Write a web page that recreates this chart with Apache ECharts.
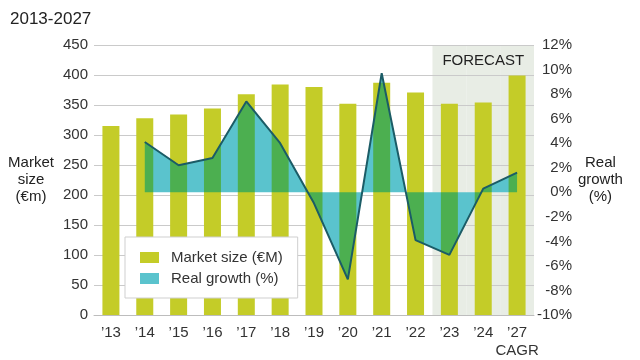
<!DOCTYPE html>
<html>
<head>
<meta charset="utf-8">
<script src="https://cdn.jsdelivr.net/npm/echarts@6/dist/echarts.min.js"></script>
<style>
html,body{margin:0;padding:0;background:#fff;}
#c{width:640px;height:360px;}
</style>
</head>
<body>
<div id="c"></div>
<script>
const categories = ['\u201913','\u201914','\u201915','\u201916','\u201917','\u201918','\u201919','\u201920','\u201921','\u201922','\u201923','\u201924','\u201927'];
const marketSize = [315, 328, 334, 344, 368, 384, 380, 352, 387, 371, 352, 354, 399];
const realGrowth = [null, 4.1, 2.2, 2.8, 7.4, 4.0, -0.9, -7.1, 9.7, -3.9, -5.1, 0.3, 1.6];
const forecast = [null, null, null, null, null, null, null, null, null, null, 1, 1, 1];
const leftTicks = {min: 0, max: 450, interval: 50};
const rightTicks = {min: -10, max: 12, interval: 2};

const FONT = "'Liberation Sans', Arial, Helvetica, sans-serif";
const chart = echarts.init(document.getElementById('c'), null, {renderer: 'canvas'});
chart.setOption({
  backgroundColor: 'transparent',
  animation: false,
  textStyle: {fontFamily: FONT},
  title: {
    text: '2013-2027', left: 5, top: 6,
    textStyle: {fontFamily: FONT, fontSize: 17, fontWeight: 'normal', color: '#222'}
  },
  grid: {left: 94, right: 106, top: 45, bottom: 43},
  legend: {
    orient: 'vertical', left: 125, top: 237,
    zlevel: 1, z: 10,
    padding: [13, 15, 12, 15],
    itemGap: 6, itemWidth: 19, itemHeight: 11,
    icon: 'rect',
    backgroundColor: '#fff', borderColor: '#cfcfcf', borderWidth: 1,
    textStyle: {fontFamily: FONT, fontSize: 15, color: '#333', padding: [0, 0, 0, 7]},
    data: ['Market size (\u20acM)', 'Real growth (%)']
  },
  xAxis: [{
    type: 'category', data: categories,
    axisLine: {lineStyle: {color: '#bdbdbd', width: 1}},
    axisTick: {show: false},
    axisLabel: {interval: 0, fontFamily: FONT, fontSize: 15, color: '#333', margin: 9, lineHeight: 18,
      formatter: function (v) { return v === '\u201927' ? v + '\nCAGR' : v; }}
  }, {
    type: 'category', data: categories, show: false
  }],
  yAxis: [{
    type: 'value', min: leftTicks.min, max: leftTicks.max, interval: leftTicks.interval,
    name: 'Market\nsize\n(\u20acm)', nameLocation: 'middle', nameRotate: 0, nameGap: 63,
    nameTextStyle: {fontFamily: FONT, fontSize: 15, color: '#222', align: 'center', verticalAlign: 'middle', lineHeight: 17},
    axisLine: {show: false}, axisTick: {show: false},
    axisLabel: {fontFamily: FONT, fontSize: 15, color: '#333', margin: 6},
    splitLine: {lineStyle: {color: '#cacaca', width: 1}}
  }, {
    type: 'value', min: rightTicks.min, max: rightTicks.max, interval: rightTicks.interval,
    position: 'right',
    name: 'Real\ngrowth\n(%)', nameLocation: 'middle', nameRotate: 0, nameGap: 66,
    nameTextStyle: {fontFamily: FONT, fontSize: 15, color: '#222', align: 'center', verticalAlign: 'middle', lineHeight: 17},
    axisLine: {show: false}, axisTick: {show: false}, splitLine: {show: false},
    axisLabel: {fontFamily: FONT, fontSize: 15, color: '#333', margin: 38, align: 'right', formatter: '{value}%'}
  }, {
    type: 'value', min: 0, max: 1, show: false
  }],
  series: [{
    name: 'forecast', type: 'bar', xAxisIndex: 1, yAxisIndex: 2,
    data: forecast, barWidth: '100%', silent: true, z: -1,
    itemStyle: {color: '#e8ede5'},
    label: {
      show: true, position: 'insideTop', distance: 8,
      formatter: function (p) { return p.dataIndex === 11 ? 'FORECAST' : ''; },
      fontFamily: FONT, fontSize: 15, color: '#222'
    }
  }, {
    name: 'Market size (\u20acM)', type: 'bar', data: marketSize,
    barWidth: 17, zlevel: 1, z: 2, silent: true,
    itemStyle: {color: '#c4cc28'}, color: '#c4cc28'
  }, {
    name: 'overlap', type: 'line', yAxisIndex: 1, data: realGrowth,
    zlevel: 1, z: 3, silent: true, symbol: 'none',
    blendMode: 'source-atop',
    lineStyle: {width: 0, opacity: 0},
    areaStyle: {color: '#4caf50', opacity: 1}
  }, {
    name: 'Real growth (%)', type: 'line', yAxisIndex: 1, data: realGrowth,
    zlevel: 1, z: 4, silent: true, symbol: 'none',
    blendMode: 'destination-over',
    color: '#5ac3cd',
    itemStyle: {color: '#5ac3cd'},
    lineStyle: {width: 0, opacity: 0},
    areaStyle: {color: '#5ac3cd', opacity: 1}
  }, {
    name: 'growth line', type: 'line', yAxisIndex: 1, data: realGrowth,
    zlevel: 1, z: 5, silent: true, symbol: 'none',
    lineStyle: {width: 2, color: '#1b5c66'}
  }]
});
</script>
</body>
</html>
